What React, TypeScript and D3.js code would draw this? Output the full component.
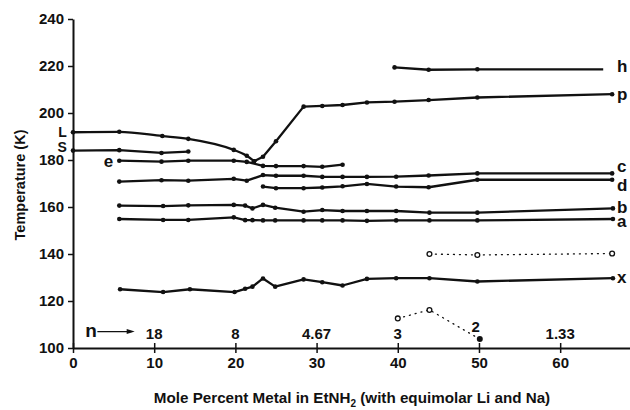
import { useEffect, useRef } from 'react'
import * as d3 from 'd3'

// each curve: [mole percent metal, temperature (K)]
const curveL = [[0, 191.8], [5.7, 192], [11, 190.2], [14.2, 189], [19.8, 184.3], [21.4, 181.8], [22.3, 179.5]]
const curveS = [[0, 184], [5.7, 184.2], [10.9, 183], [14.2, 183.6]]
const curveE = [[5.7, 179.7], [10.9, 179.3], [14.2, 179.7], [19.8, 179.7], [21.4, 179.2], [23.4, 177.5], [25, 177.4], [28.4, 177.4], [30.7, 177.1], [33.2, 178]]
const curveP = [[22.3, 179.5], [23.4, 181.4], [25, 188], [28.4, 202.7], [30.7, 203], [33.2, 203.4], [36.2, 204.5], [39.6, 204.8], [43.8, 205.5], [49.8, 206.6], [66.4, 208]]
const curveH = [[39.6, 219.4], [43.8, 218.4], [49.8, 218.6], [65.3, 218.6]]
const curveC = [[5.7, 170.8], [10.9, 171.4], [14.2, 171.2], [19.8, 172], [21.4, 171.2], [23.4, 173.6], [25, 173.3], [28.4, 173.3], [30.7, 172.8], [33.2, 172.8], [36.2, 172.8], [39.8, 172.9], [43.8, 173.4], [49.8, 174.3], [66.4, 174.3]]
const curveD = [[23.4, 168.7], [25, 168], [28.4, 168], [30.7, 168.3], [33.2, 168.8], [36.2, 169.8], [39.8, 168.7], [43.8, 168.4], [49.8, 171.6], [66.4, 171.6]]
const curveB = [[5.7, 160.6], [11.1, 160.4], [14.2, 160.7], [19.8, 160.9], [21.2, 160.6], [22.1, 159.4], [23.4, 160.9], [24.9, 159.7], [28.4, 158], [30.7, 158.7], [33.2, 158.3], [36.2, 158.3], [39.8, 158.3], [43.9, 157.6], [49.8, 157.6], [66.5, 159.4]]
const curveA = [[5.7, 154.9], [11.1, 154.5], [14.2, 154.5], [19.8, 155.6], [21.2, 154.4], [22.1, 154.4], [23.4, 154.3], [24.9, 154.3], [28.4, 154.3], [30.7, 154.3], [33.2, 154.3], [36.2, 154.1], [39.8, 154.3], [43.9, 154.3], [49.8, 154.3], [66.5, 154.9]]
const curveX = [[5.8, 125], [11.1, 123.8], [14.4, 125], [19.9, 123.8], [21.2, 125.2], [22.1, 126.1], [23.4, 129.6], [24.9, 126.1], [28.4, 129.2], [30.7, 128], [33.2, 126.6], [36.2, 129.4], [39.8, 129.7], [43.9, 129.7], [49.8, 128.3], [66.5, 129.7]]
const dottedUpper = [[43.9, 140], [49.8, 139.6], [66.4, 140.2]]
const dottedLower = [[40, 112.6], [43.9, 116.2], [50.1, 103.8]]

const xTicks = [0, 10, 20, 30, 40, 50, 60]
const yTicks = [100, 120, 140, 160, 180, 200, 220, 240]

// n = solvent / metal ratio marks: label, mole %, baseline temperature
const nLabels = ['18', '8', '4.67', '3', '2', '1.33']
const nPositions = [10, 20, 30, 40, 49.6, 60]
const nBaselines = [104, 104, 104, 104, 106.8, 104]

// curve names: [label, x, baseline temperature]
const rightLabels = [['h', 67, 217.6], ['p', 67, 205.5], ['c', 67, 175], ['d', 67, 166.8], ['b', 67, 157.6], ['a', 67, 151.6], ['x', 67, 127.7]]
const leftLabels = [['L', -0.75, 189.6], ['S', -0.75, 183.5], ['e', 4.95, 177.2]]

export default function App() {
  const svgRef = useRef<SVGSVGElement>(null)

  useEffect(() => {
    if (!svgRef.current) return
    const svg = d3.select(svgRef.current)
    svg.selectAll('*').remove()

    const font = '"Liberation Sans", Arial, Helvetica, sans-serif'
    const ink = '#111'

    const x = d3.scaleLinear().domain([0, 68.6]).range([73, 630])
    const y = d3.scaleLinear().domain([100, 240]).range([348, 19])

    // axes
    const yAxis = svg.append('g')
      .attr('transform', `translate(${x(0)},0)`)
      .call(d3.axisLeft(y).tickValues(yTicks).tickSize(5).tickSizeOuter(0).tickPadding(4))
    yAxis.select('.domain').attr('stroke', ink).attr('stroke-width', 2)
    yAxis.selectAll('.tick line').attr('stroke', ink).attr('stroke-width', 1.5)
    yAxis.selectAll('text')
      .attr('font-family', font)
      .attr('font-size', 15)
      .attr('font-weight', 'bold')
      .attr('fill', ink)

    const xAxis = svg.append('g')
      .attr('transform', `translate(0,${y(100)})`)
      .call(d3.axisBottom(x).tickValues(xTicks).tickSize(5).tickSizeOuter(0).tickPadding(4))
    xAxis.select('.domain').attr('stroke', ink).attr('stroke-width', 2)
    xAxis.selectAll('.tick line').attr('stroke', ink).attr('stroke-width', 1.5).attr('y1', -5)
    xAxis.selectAll('text')
      .attr('font-family', font)
      .attr('font-size', 15)
      .attr('font-weight', 'bold')
      .attr('fill', ink)

    // axis titles
    svg.append('text')
      .attr('transform', `translate(20,${185}) rotate(-90)`)
      .attr('text-anchor', 'middle')
      .attr('dy', '0.35em')
      .attr('font-family', font)
      .attr('font-size', 14.5)
      .attr('font-weight', 'bold')
      .attr('fill', ink)
      .text('Temperature (K)')

    const xt = svg.append('text')
      .attr('x', 352)
      .attr('y', 403)
      .attr('text-anchor', 'middle')
      .attr('font-family', font)
      .attr('font-size', 15.2)
      .attr('font-weight', 'bold')
      .attr('fill', ink)
    xt.append('tspan').text('Mole Percent Metal in EtNH')
    xt.append('tspan').attr('dy', 4).attr('font-size', 10).text('2')
    xt.append('tspan').attr('dy', -4).text(' (with equimolar Li and Na)')

    // solid curves
    const line = d3.line<number[]>().x((d) => x(d[0])).y((d) => y(d[1]))
    const smooth = d3.line<number[]>().x((d) => x(d[0])).y((d) => y(d[1])).curve(d3.curveMonotoneX)

    const curves = [
      { pts: curveL, gen: smooth, skipLast: false },
      { pts: curveS, gen: line, skipLast: false },
      { pts: curveE, gen: line, skipLast: false },
      { pts: curveP, gen: line, skipLast: false },
      { pts: curveH, gen: line, skipLast: true },
      { pts: curveC, gen: line, skipLast: false },
      { pts: curveD, gen: line, skipLast: false },
      { pts: curveB, gen: line, skipLast: false },
      { pts: curveA, gen: line, skipLast: false },
      { pts: curveX, gen: line, skipLast: false },
    ]

    curves.forEach((c) => {
      svg.append('path')
        .attr('d', c.gen(c.pts))
        .attr('fill', 'none')
        .attr('stroke', ink)
        .attr('stroke-width', 2.3)
        .attr('stroke-linejoin', 'round')
      const dots = c.skipLast ? c.pts.slice(0, -1) : c.pts
      svg.append('g')
        .selectAll('circle')
        .data(dots)
        .join('circle')
        .attr('cx', (d) => x(d[0]))
        .attr('cy', (d) => y(d[1]))
        .attr('r', 2.3)
        .attr('fill', ink)
    })

    // dotted curves with open circles
    ;[dottedUpper, dottedLower].forEach((pts) => {
      svg.append('path')
        .attr('d', line(pts))
        .attr('fill', 'none')
        .attr('stroke', ink)
        .attr('stroke-width', 1.3)
        .attr('stroke-dasharray', '1,5')
        .attr('stroke-linecap', 'round')
    })
    const openPts = dottedUpper.concat(dottedLower.slice(0, 2))
    svg.append('g')
      .selectAll('circle')
      .data(openPts)
      .join('circle')
      .attr('cx', (d) => x(d[0]))
      .attr('cy', (d) => y(d[1]))
      .attr('r', 2.4)
      .attr('fill', '#fff')
      .attr('stroke', ink)
      .attr('stroke-width', 1.3)
    const lastLower = dottedLower[dottedLower.length - 1]
    svg.append('circle')
      .attr('cx', x(lastLower[0]))
      .attr('cy', y(lastLower[1]))
      .attr('r', 3)
      .attr('fill', ink)

    // curve labels
    rightLabels.concat(leftLabels).forEach(([name, lx, ly]) => {
      const isLeft = leftLabels.some((l) => l[0] === name)
      svg.append('text')
        .attr('x', x(lx as number))
        .attr('y', y(ly as number))
        .attr('text-anchor', isLeft ? 'end' : 'start')
        .attr('font-family', font)
        .attr('font-size', name === 'L' || name === 'S' ? 14 : 17)
        .attr('font-weight', 'bold')
        .attr('fill', ink)
        .text(name as string)
    })

    // n ratio row
    svg.append('text')
      .attr('x', x(1.5))
      .attr('y', y(104.8))
      .attr('font-family', font)
      .attr('font-size', 19)
      .attr('font-weight', 'bold')
      .attr('fill', ink)
      .text('n')
    svg.append('line')
      .attr('x1', x(3))
      .attr('x2', x(7.2))
      .attr('y1', y(107))
      .attr('y2', y(107))
      .attr('stroke', ink)
      .attr('stroke-width', 1.2)
    svg.append('path')
      .attr('d', `M${x(7.6)},${y(107)} l-8,-2.5 l0,5 z`)
      .attr('fill', ink)

    svg.append('g')
      .selectAll('text')
      .data(nLabels)
      .join('text')
      .attr('x', (_, i) => x(nPositions[i]))
      .attr('y', (_, i) => y(nBaselines[i]))
      .attr('text-anchor', 'middle')
      .attr('font-family', font)
      .attr('font-size', 15)
      .attr('font-weight', 'bold')
      .attr('fill', ink)
      .text((d) => d)
  }, [])

  return (
    <svg
      ref={svgRef}
      width={630}
      height={410}
      style={{ position: 'absolute', left: 0, top: 0, background: '#fff' }}
    />
  )
}
